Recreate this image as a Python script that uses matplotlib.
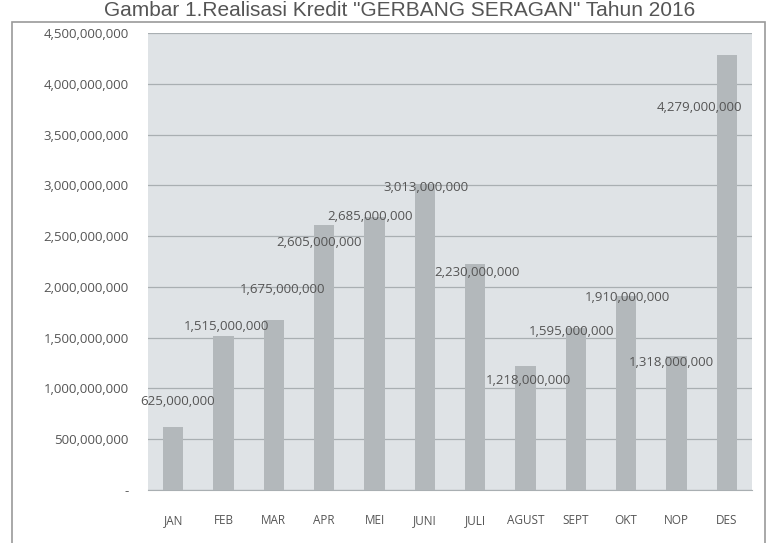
import numpy as np
import matplotlib.pyplot as plt
from matplotlib.patches import Rectangle
from matplotlib.ticker import FuncFormatter

bulan = ["JAN", "FEB", "MAR", "APR", "MEI", "JUNI", "JULI", "AGUST", "SEPT", "OKT", "NOP", "DES"]
realisasi = [625000000, 1515000000, 1675000000, 2605000000, 2685000000, 3013000000,
             2230000000, 1218000000, 1595000000, 1910000000, 1318000000, 4279000000]
y_ticks = np.arange(0, 4500000001, 500000000)

# offset label (dx, dy dalam point) biar mirip posisi di gambar
label_off = [(3, 13), (2, 2), (6, 17), (-4, -17), (-3, -4), (1, -7),
             (1, -11), (2, -15), (-3, -7), (1, -6), (-4, -9), (-20, -42)]

plt.rcParams['font.family'] = ['Open Sans', 'DejaVu Sans']

fig = plt.figure(figsize=(7.69, 5.43), dpi=100)
fig.patches.append(Rectangle((12 / 769, -0.02), 753 / 769, 1 - 22 / 543 + 0.02,
                             transform=fig.transFigure, fill=False,
                             edgecolor='#9a9a9a', linewidth=1.2))
fig.text(0.52, 1 - 1 / 543, 'Gambar 1.Realisasi Kredit "GERBANG SERAGAN" Tahun 2016',
         ha='center', va='top', fontsize=15, color='#555555',
         family=['Liberation Sans', 'DejaVu Sans'])

ax = fig.add_axes([148 / 769, 53 / 543, 604 / 769, 457 / 543])
ax.set_facecolor('#dfe3e6')
x = np.arange(len(bulan))
ax.bar(x, realisasi, width=0.4, color='#b3b8bb', zorder=3)
for i, v in enumerate(realisasi):
    ax.annotate(f"{v:,}", (x[i], v), xytext=label_off[i], textcoords='offset points',
                ha='center', va='bottom', fontsize=9.5, color='#555555', zorder=4)

ax.set_xlim(-0.5, len(bulan) - 0.5)
ax.set_ylim(0, 4500000000)
ax.set_yticks(y_ticks)
ax.yaxis.set_major_formatter(FuncFormatter(lambda v, p: '-' if v == 0 else f"{int(v):,}"))
ax.set_xticks(x)
ax.set_xticklabels(bulan)
ax.grid(axis='y', color='#a9afb2', linewidth=0.9, zorder=1)
for s in ax.spines.values():
    s.set_visible(False)
ax.spines['bottom'].set_visible(True)
ax.spines['bottom'].set_color('#a9afb2')
ax.tick_params(axis='y', length=0, pad=14, labelsize=9.5, labelcolor='#555555')
ax.tick_params(axis='x', length=0, pad=17, labelsize=8.5, labelcolor='#555555')

fig.savefig('out.png', dpi=100)
